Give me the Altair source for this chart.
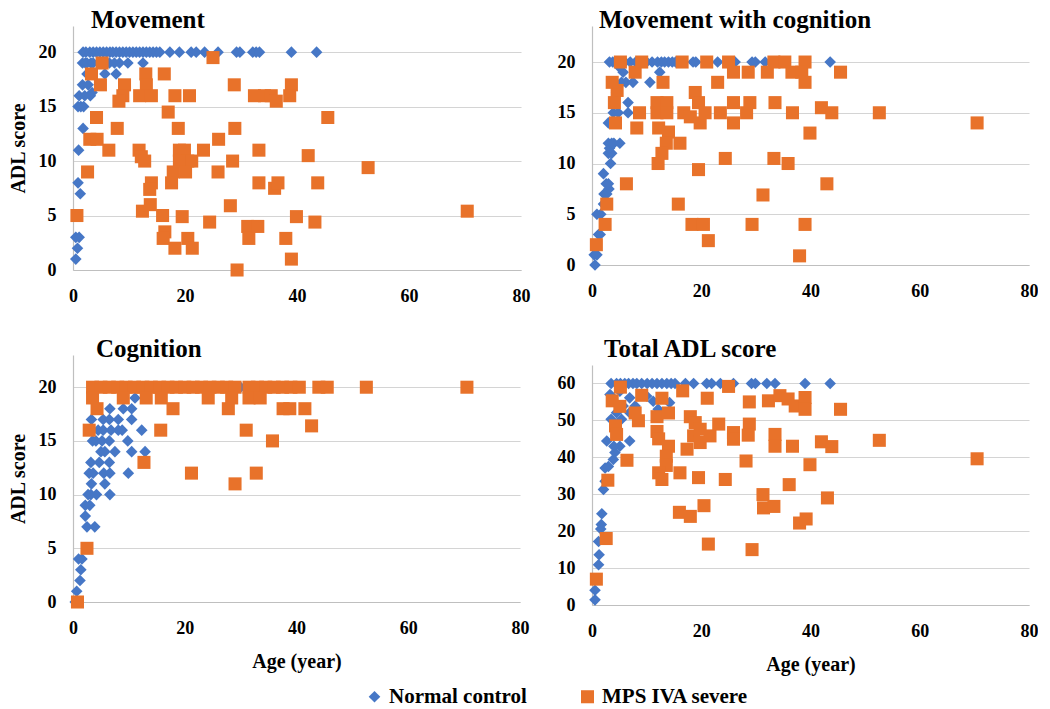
import altair as alt
import pandas as pd

GROUPS = ["Normal control", "MPS IVA severe"]
COLORS = ["#4677C6", "#E8722A"]

# ---------------- Movement ----------------
mov_nc_age = [1.8, 2.3, 3.0, 3.6, 4.2, 4.8, 5.4, 6.0, 6.6, 7.1, 7.7, 8.3, 8.9, 9.5, 10.1, 10.7, 11.3, 11.9,
              12.5, 13.1, 13.7, 14.3, 14.9, 15.5, 17.3, 19.0, 21.1, 22.0, 23.5, 25.9, 29.2, 29.8, 32.1, 32.7,
              33.3, 39.0, 43.5,
              1.7, 2.2, 2.5, 3.2, 3.6, 4.8, 6.5, 7.4, 8.3, 9.8, 12.5,
              2.5, 5.7, 7.7, 1.7, 2.7, 1.1, 2.1, 3.1, 3.4, 0.9, 1.4, 1.9, 1.8, 1.0, 0.9, 1.3,
              0.5, 1.1, 0.8, 0.5]
mov_nc_score = [20] * 37 + [19] * 11 + [18, 18, 18, 17, 17, 16, 16, 16, 16.3, 15, 15, 15, 13, 11, 8, 7,
                                         3, 3, 2, 1]
mov_mps_age = [0.7, 25.0, 5.2, 3.3, 4.9, 4.2, 3.0, 4.3, 2.6, 7.9, 6.4, 9.2, 8.9, 8.2, 13.0, 13.1, 11.9, 14.0,
               16.3, 17.0, 18.2, 20.8, 18.8, 11.8, 12.2, 12.8, 14.0, 13.7, 12.4, 13.8, 16.0, 16.4, 16.1, 18.2,
               19.5, 20.5, 21.3, 19.0, 19.9, 20.5, 21.2, 19.0, 17.9, 20.1, 17.6, 23.3, 26.0, 25.9, 24.4, 28.8,
               28.9, 28.5, 28.1, 29.3, 31.2, 31.4, 33.0, 33.2, 33.2, 32.4, 34.2, 35.4, 36.3, 36.0, 36.6, 38.0,
               39.0, 38.7, 39.0, 39.9, 42.0, 43.2, 43.7, 45.5, 52.7, 70.4]
mov_mps_score = [5, 19.5, 19, 18, 17, 14, 12, 12, 9, 13, 11, 17, 16, 15.5, 18, 17, 16, 16,
                 18, 14.5, 16, 16, 13, 11, 10.4, 10, 8, 7.4, 5.4, 6, 5, 3.5, 2.9, 2,
                 4.9, 2.9, 2, 11, 11, 10, 10, 10, 9, 9, 8, 11, 12, 9, 4.4, 17,
                 13, 10, 5.9, 0, 4, 2.9, 4, 11, 8, 16, 16, 16, 15.5, 7.5, 8, 2.9,
                 17, 16, 1, 4.9, 10.5, 4.4, 8, 14, 9.4, 5.4]

# ---------------- Movement with cognition ----------------
mwc_nc_age = [3.2, 3.8, 4.5, 5.2, 6.0, 7.0, 8.0, 9.0, 10.0, 11.0, 12.0, 12.7, 13.3, 14.0, 14.7, 15.3, 16.0,
              18.5, 19.0, 23.0, 25.5, 26.2, 29.3, 29.9, 31.7, 43.6,
              0.55, 0.4, 0.9, 1.2, 1.5, 0.9, 1.6, 2.1, 2.4, 2.2, 2.7, 3.1, 2.6, 3.0, 2.1, 3.4, 3.0, 3.6, 3.2,
              3.0, 3.6, 4.0, 5.1, 3.0, 3.9, 4.8, 6.6, 6.6, 4.5, 5.4, 6.2, 7.5, 10.6, 5.7, 12.4, 5.0]
mwc_nc_score = [20] * 26 + [0, 1, 1, 3, 3, 5, 5, 6, 6, 7, 7, 7.5, 8, 8, 9, 10, 11, 11, 11.5,
                            12, 12, 12, 12, 14, 15, 15, 15, 16, 17, 18, 18, 18, 18, 19, 19, 19.5]
mwc_mps_age = [0.8, 2.4, 2.7, 6.3, 4.3, 4.1, 4.6, 3.7, 5.2, 7.9, 9.1, 8.2, 8.7, 13.0, 11.9, 11.9, 13.7, 13.7,
               12.2, 14.0, 13.6, 16.1, 12.8, 12.1, 15.8, 16.5, 18.9, 19.5, 16.8, 18.0, 19.8, 20.7, 19.5, 18.3,
               20.4, 21.3, 21.0, 23.0, 23.5, 24.4, 25.0, 25.9, 25.9, 25.9, 28.3, 28.9, 28.6, 29.3, 31.3, 32.1,
               33.3, 33.5, 33.3, 35.3, 36.6, 36.7, 35.9, 38.0, 39.0, 38.4, 39.0, 39.0, 39.9, 42.0, 43.9, 43.0,
               45.5, 52.6, 70.5]
mwc_mps_score = [2, 4, 6, 8, 14, 16, 17.2, 18, 20, 19, 20, 13.5, 15, 18, 16, 15, 16, 15,
                 13.5, 13.1, 12, 12, 11, 10, 6, 20, 17, 16, 15, 14.6, 14, 15, 9.4, 4,
                 4, 2.4, 20, 18, 15, 10.5, 20, 19, 16, 14, 15, 16, 19, 4, 6.9, 19,
                 20, 16, 10.5, 20, 19, 15, 10, 0.9, 20, 19, 18, 4, 13, 15.5, 15, 8,
                 19, 15, 14]

# ---------------- Cognition ----------------
cog_nc_age = [0.4, 0.66, 1.25, 1.4, 1.0, 1.6, 2.5, 3.9, 2.2, 2.2, 3.0, 2.7, 3.2, 4.2, 6.6, 3.3, 5.7, 2.9,
              3.6, 5.5, 6.6, 9.9, 3.2, 4.7, 6.5, 5.0, 5.7, 7.5, 10.5, 12.9, 3.5, 4.1, 5.2, 6.5, 9.8, 4.5,
              5.4, 6.8, 8.1, 8.8, 12.3, 3.3, 5.4, 6.5, 8.1, 10.5, 6.6, 9.0, 10.5, 11.1, 30.0]
cog_nc_score = [0, 1, 2, 3, 4, 4, 7, 7, 8, 9, 9, 10, 10, 10, 10, 11, 11, 12,
                12, 12, 12, 12, 13, 13, 13, 14, 14, 14, 14, 14, 15, 15, 15, 15, 15, 16,
                16, 16, 16, 16, 16, 17, 17, 17, 17, 17, 18, 18, 18, 19, 20]
cog_mps_age = [3.5, 5.0, 6.5, 8.0, 9.5, 11.0, 12.5, 14.0, 15.5, 17.0, 18.5, 20.0, 21.5, 23.0, 24.5, 26.0,
               27.5, 29.0, 31.5, 33.0, 34.5, 36.0, 37.5, 39.0, 40.5, 44.0, 45.5, 52.5, 70.5,
               0.8, 2.5, 2.9, 4.3, 3.5, 9.0, 13.1, 15.8, 15.7, 17.9, 12.7, 21.2, 24.2, 27.8, 28.4, 29.0,
               31.0, 31.5, 33.5, 32.8, 35.7, 37.6, 38.8, 41.5, 42.7]
cog_mps_score = [20] * 29 + [0, 5, 16, 18, 19, 19, 19, 19, 16, 18, 13, 12, 19, 18, 19, 11,
                             16, 19, 19, 12, 15, 18, 18, 18, 16.4]

# ---------------- Total ADL score ----------------
tot_nc_age = [3.5, 4.5, 5.2, 6.0, 6.7, 7.5, 8.2, 9.1, 10.1, 11.0, 11.9, 12.8, 13.7, 14.5, 15.2, 17.1, 18.6,
              21.0, 21.9, 23.5, 25.9, 29.2, 29.9, 32.0, 33.5, 39.0, 43.6,
              0.55, 0.55, 1.2, 1.3, 1.2, 1.6, 1.7, 1.8, 2.1, 2.4, 2.4, 3.0, 3.9, 4.2, 2.7, 6.9, 5.1, 4.0,
              4.2, 5.4, 3.5, 4.5, 5.7, 6.9, 3.3, 5.1, 6.9, 10.0, 11.2, 7.9, 12.1, 14.2]
tot_nc_score = [60] * 27 + [1.4, 4, 10.9, 13.6, 17.2, 20.6, 21.8, 24.7, 31.3, 33.5, 37.1, 37.5, 39.4, 41.3,
                            44.4, 44.4, 43, 43, 48.9, 50.3, 50.3, 52.1, 53.9, 52.1, 57, 57.9, 56.1, 56.6,
                            55.2, 53.9, 53, 54.8]
tot_mps_age = [0.8, 2.6, 2.9, 3.7, 5.1, 5.2, 4.3, 4.5, 6.4, 7.9, 8.5, 9.1, 12.8, 11.9, 11.9, 12.2, 14.0,
               14.0, 13.6, 13.6, 12.2, 12.8, 16.1, 16.6, 16.0, 18.0, 18.0, 18.9, 17.4, 18.6, 19.8, 19.8,
               19.5, 20.5, 21.3, 21.1, 21.6, 23.2, 24.4, 25.0, 25.9, 25.9, 28.2, 28.8, 28.8, 28.6, 29.3,
               31.3, 31.4, 32.3, 33.3, 33.5, 33.5, 34.4, 35.9, 36.1, 36.7, 37.2, 38.0, 39.2, 39.0, 39.0,
               39.9, 42.0, 43.9, 43.1, 45.5, 52.6, 70.5]
tot_mps_score = [7, 18, 33.8, 55.3, 53.8, 59, 48.5, 46.2, 39.2, 52, 49.9, 56.8, 56, 51, 47, 45, 52,
                 43, 40.3, 37.8, 35.8, 34, 35.8, 58, 25.1, 24, 51, 49.4, 42.2, 45.8, 47.6, 44,
                 34.5, 26.9, 16.5, 56, 45.8, 49, 34, 59.2, 46.7, 44.9, 39, 55, 49, 46, 15,
                 29.9, 26.3, 55.3, 26.7, 46.2, 43, 56.7, 55.8, 32.6, 43, 53.9, 22.2, 23.3, 56.2, 53,
                 38, 44.2, 42.9, 29, 53, 44.6, 39.6]

FONT = "Liberation Serif"


def make_df(nc_age, nc_score, mps_age, mps_score):
    rows = [{"age": a, "score": s, "group": GROUPS[0]} for a, s in zip(nc_age, nc_score)]
    rows += [{"age": a, "score": s, "group": GROUPS[1]} for a, s in zip(mps_age, mps_score)]
    return pd.DataFrame(rows)


legend = alt.Legend(
    title=None, orient="none", legendX=291, legendY=660, direction="horizontal",
    labelFont=FONT, labelFontSize=21, labelFontWeight="bold", labelColor="black",
    symbolSize=170, symbolOpacity=1, columnPadding=50, labelOffset=4, padding=0,
)


def panel(df, title, w, h, ymax, yticks, xtitle, ytitle, dx, toff):
    return alt.Chart(df).mark_point(filled=True, opacity=1).encode(
        x=alt.X("age:Q", scale=alt.Scale(domain=[0, 80], nice=False),
                axis=alt.Axis(values=[0, 20, 40, 60, 80], grid=False, ticks=False, labelFlush=False,
                              domainColor="#bfbfbf", domainWidth=1.2, labelPadding=17,
                              title=xtitle, titlePadding=14)),
        y=alt.Y("score:Q", scale=alt.Scale(domain=[0, ymax], nice=False),
                axis=alt.Axis(values=yticks, grid=True, gridColor="#d4d4d4", gridWidth=1.2, ticks=False,
                              domainColor="#bfbfbf", domainWidth=1.2, labelPadding=17,
                              title=ytitle, titlePadding=10)),
        color=alt.Color("group:N", scale=alt.Scale(domain=GROUPS, range=COLORS), legend=legend),
        shape=alt.Shape("group:N", scale=alt.Scale(domain=GROUPS, range=["diamond", "square"]), legend=legend),
        size=alt.Size("group:N", scale=alt.Scale(domain=GROUPS, range=[135, 170]), legend=None),
    ).properties(
        width=w, height=h,
        title=alt.TitleParams(title, anchor="start", dx=dx, offset=toff, font=FONT, fontSize=25,
                              fontWeight="bold", color="black"),
    )


p1 = panel(make_df(mov_nc_age, mov_nc_score, mov_mps_age, mov_mps_score), "Movement",
           448, 244, 22.4, [0, 5, 10, 15, 20], None, "ADL score", 83, -7)
p3 = panel(make_df(cog_nc_age, cog_nc_score, cog_mps_age, cog_mps_score), "Cognition",
           447, 247, 23, [0, 5, 10, 15, 20], "Age (year)", "ADL score", 88, -7)
p2 = panel(make_df(mwc_nc_age, mwc_nc_score, mwc_mps_age, mwc_mps_score), "Movement with cognition",
           437, 239, 23.55, [0, 5, 10, 15, 20], None, None, 42, -7)
p4 = panel(make_df(tot_nc_age, tot_nc_score, tot_mps_age, tot_mps_score), "Total ADL score",
           437, 240, 65, [0, 10, 20, 30, 40, 50, 60], "Age (year)", None, 47, 3)

col1 = alt.vconcat(p1, p3, spacing=32).resolve_scale(x="independent", y="independent")
col2 = alt.vconcat(p2, p4, spacing=37).resolve_scale(x="independent", y="independent")

chart = alt.hconcat(col1, col2, spacing=27).resolve_scale(
    color="shared", shape="shared", size="shared"
).properties(
    padding={"left": 0, "top": 0, "right": 0, "bottom": 0}, background="white"
).configure_view(stroke=None).configure_axis(
    labelFont=FONT, labelFontSize=18, labelFontWeight="bold", labelColor="black",
    titleFont=FONT, titleFontSize=20, titleFontWeight="bold", titleColor="black",
)

chart.save("out.html", embed_options={"renderer": "svg", "actions": False})
